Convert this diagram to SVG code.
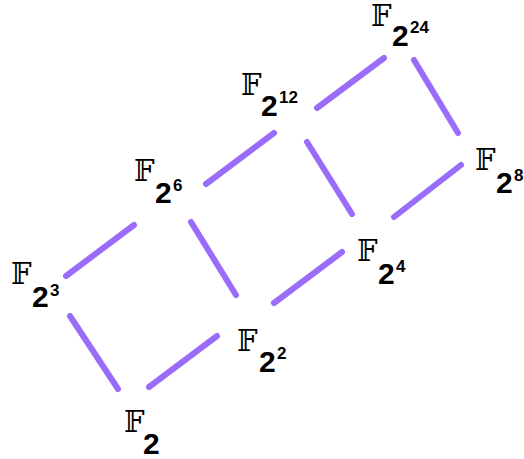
<svg xmlns="http://www.w3.org/2000/svg" width="524" height="459" viewBox="0 0 524 459">
<style>
.e{stroke:#9a6cfa;stroke-width:6;stroke-linecap:round;fill:none}
.f{font-family:"DejaVu Serif","DejaVu Sans",serif;font-size:29px;fill:#000}
.b{font-family:"Liberation Sans",Arial,sans-serif;font-weight:bold;font-size:30px;fill:#000}
.s{font-family:"Liberation Sans",Arial,sans-serif;font-weight:bold;font-size:17px;fill:#000}
</style>
<rect width="524" height="459" fill="#fff"/>
<g id="connectors">
<line class="e" x1="149" y1="387" x2="217" y2="336"/>
<line class="e" x1="118" y1="389" x2="70" y2="316"/>
<line class="e" x1="66" y1="276" x2="134" y2="225"/>
<line class="e" x1="274" y1="303" x2="342" y2="252"/>
<line class="e" x1="191" y1="222" x2="236" y2="295"/>
<line class="e" x1="206" y1="184" x2="274" y2="133"/>
<line class="e" x1="307" y1="142" x2="352" y2="214"/>
<line class="e" x1="394" y1="217" x2="461" y2="165"/>
<line class="e" x1="317" y1="108" x2="384" y2="58"/>
<line class="e" x1="414" y1="60" x2="458" y2="133"/>
</g>
<g id="n1"><text class="f" x="124" y="432">𝔽</text><text class="b" x="143" y="454">2</text></g>
<g id="n2"><text class="f" x="237" y="351">𝔽</text><text class="b" x="259" y="372">2</text><text class="s" x="277" y="359">2</text></g>
<g id="n3"><text class="f" x="11" y="284">𝔽</text><text class="b" x="32" y="307">2</text><text class="s" x="50" y="296">3</text></g>
<g id="n4"><text class="f" x="357" y="261">𝔽</text><text class="b" x="378" y="284">2</text><text class="s" x="396" y="272">4</text></g>
<g id="n6"><text class="f" x="134" y="181">𝔽</text><text class="b" x="155" y="203">2</text><text class="s" x="173" y="191">6</text></g>
<g id="n8"><text class="f" x="475" y="170">𝔽</text><text class="b" x="496" y="193">2</text><text class="s" x="514" y="181">8</text></g>
<g id="n12"><text class="f" x="241" y="95">𝔽</text><text class="b" x="261" y="116">2</text><text class="s" x="279" y="103">12</text></g>
<g id="n24"><text class="f" x="371" y="26">𝔽</text><text class="b" x="392" y="46">2</text><text class="s" x="410" y="33">24</text></g>
</svg>
